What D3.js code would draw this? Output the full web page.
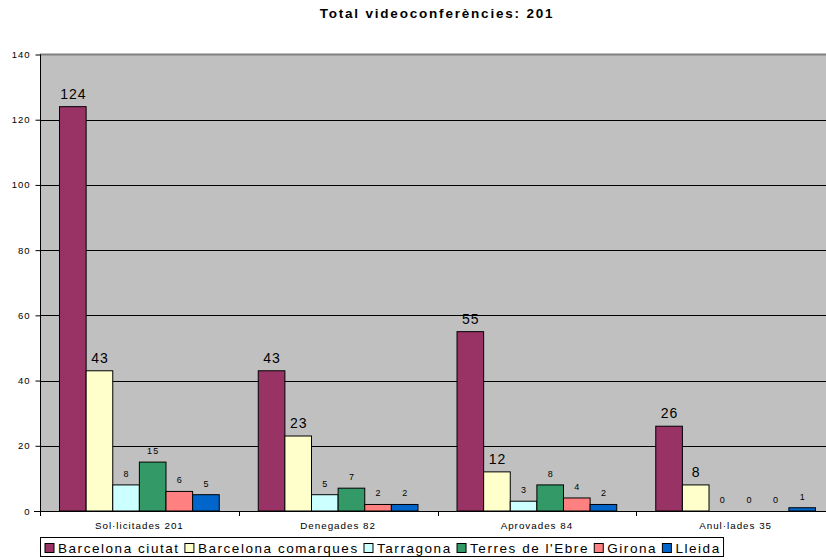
<!DOCTYPE html>
<html><head><meta charset="utf-8">
<script src="https://cdn.jsdelivr.net/npm/d3@7"></script>
<style>
html,body{margin:0;padding:0;background:#fff;}
svg{display:block;font-family:"Liberation Sans",Arial,sans-serif;}
</style></head>
<body>
<svg id="c" width="826" height="560"></svg>
<script>
const title = "Total videoconferències: 201";
const categories = ["Sol·licitades 201", "Denegades 82", "Aprovades 84", "Anul·lades 35"];
const seriesNames = ["Barcelona ciutat", "Barcelona comarques", "Tarragona", "Terres de l'Ebre", "Girona", "Lleida"];
const seriesColors = ["#993366", "#FFFFCC", "#CCFFFF", "#339966", "#FF8080", "#0066CC"];
const barcelonaCiutat = [124, 43, 55, 26];
const barcelonaComarques = [43, 23, 12, 8];
const tarragona = [8, 5, 3, 0];
const terresEbre = [15, 7, 8, 0];
const girona = [6, 2, 4, 0];
const lleida = [5, 2, 2, 1];
const yTicks = [0, 20, 40, 60, 80, 100, 120, 140];

const seriesValues = [barcelonaCiutat, barcelonaComarques, tarragona, terresEbre, girona, lleida];

const svg = d3.select("#c");
const L = 40, R = 835, T = 54.5, B = 511;

const x0 = d3.scaleBand().domain(categories).range([L, R]).paddingInner(0).paddingOuter(0);
const x1 = d3.scaleBand().domain(seriesNames).range([0, x0.bandwidth()]).paddingInner(0).paddingOuter(0.733);
const y = d3.scaleLinear().domain([0, 140]).range([B, T]);

// plot background
svg.append("rect").attr("x", L).attr("y", T).attr("width", R - L).attr("height", B - T).attr("fill", "#C0C0C0");

// gridlines
svg.append("g").selectAll("line").data(yTicks.filter(d => d > 0 && d < 140)).join("line")
  .attr("x1", L).attr("x2", R).attr("y1", d => Math.round(y(d)) + 0.5).attr("y2", d => Math.round(y(d)) + 0.5)
  .attr("stroke", "#000").attr("stroke-width", 1);
// top border
svg.append("line").attr("x1", L).attr("x2", R).attr("y1", T).attr("y2", T).attr("stroke", "#808080").attr("stroke-width", 2);

// bars
const groups = svg.append("g").selectAll("g").data(categories).join("g")
  .attr("transform", c => `translate(${x0(c)},0)`);
groups.each(function(c, ci) {
  const g = d3.select(this);
  seriesNames.forEach((s, si) => {
    const v = seriesValues[si][ci];
    if (v > 0) {
      g.append("rect").attr("x", x1(s)).attr("y", y(v)).attr("width", x1.bandwidth()).attr("height", B - y(v))
        .attr("fill", seriesColors[si]).attr("stroke", "#000").attr("stroke-width", 1);
    }
    const big = si < 2;
    g.append("text").attr("x", x1(s) + x1.bandwidth() / 2 + (big ? 0.5 : 0.6)).attr("y", y(v) - 8)
      .attr("text-anchor", "middle").attr("font-size", big ? 14 : 9).attr("letter-spacing", big ? 1 : 1.2)
      .attr("fill", "#000").text(v);
  });
});

// y axis
const yAxis = d3.axisLeft(y).tickValues(yTicks).tickSize(5).tickPadding(5);
const ya = svg.append("g").attr("transform", `translate(${L + 0.5},0)`).call(yAxis);
ya.select(".domain").attr("stroke", "#000").attr("d", `M0,${T}V${B}`);
ya.selectAll(".tick line").attr("stroke", "#000");
ya.selectAll(".tick text").attr("font-family", "Liberation Sans, Arial, sans-serif").attr("font-size", 9.5).attr("letter-spacing", 1).attr("fill", "#000");

// x axis
svg.append("line").attr("x1", L - 6).attr("x2", R).attr("y1", B + 0.5).attr("y2", B + 0.5).attr("stroke", "#000");
const bounds = categories.map(c => x0(c));
svg.append("g").selectAll("line").data(bounds).join("line")
  .attr("x1", d => Math.round(d) + 0.5).attr("x2", d => Math.round(d) + 0.5).attr("y1", B).attr("y2", B + 5).attr("stroke", "#000");
svg.append("g").selectAll("text").data(categories).join("text")
  .attr("x", c => x0(c) + x0.bandwidth() / 2).attr("y", 529).attr("text-anchor", "middle")
  .attr("font-size", 9.8).attr("letter-spacing", 1).attr("fill", "#000").text(c => c);

// title
svg.append("text").attr("x", 437).attr("y", 18).attr("text-anchor", "middle").attr("font-weight", "bold")
  .attr("font-size", 13.5).attr("letter-spacing", 1.8).text(title);

// legend
const leg = svg.append("g");
const legBox = leg.append("rect").attr("x", 40.5).attr("y", 537.5).attr("height", 19).attr("fill", "#fff").attr("stroke", "#000");
let lx = 44.5;
seriesNames.forEach((s, i) => {
  leg.append("rect").attr("x", lx + 0.5).attr("y", 543.5).attr("width", 9).attr("height", 9).attr("fill", seriesColors[i]).attr("stroke", "#000");
  const t = leg.append("text").attr("x", lx + 13.5).attr("y", 552.5).attr("font-size", 13.5).attr("letter-spacing", 1.55).text(s);
  lx += 13.5 + t.node().getComputedTextLength() + 4.8;
});
legBox.attr("width", lx - 44.5 + 2);
</script>
</body></html>
